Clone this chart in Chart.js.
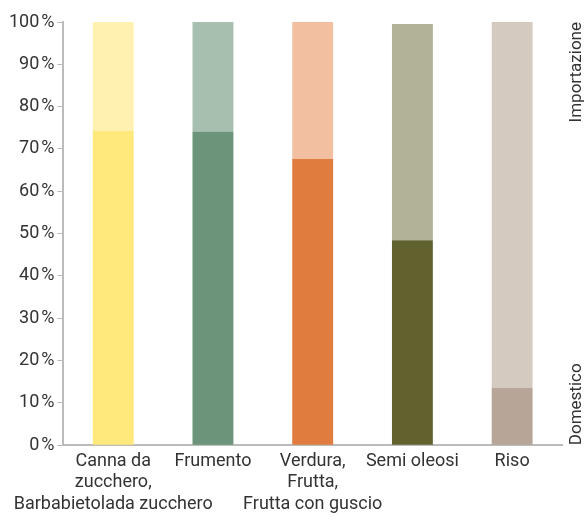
<!DOCTYPE html>
<html>
<head>
<meta charset="utf-8">
<script src="https://cdn.jsdelivr.net/npm/chart.js@4/dist/chart.umd.min.js"></script>
<style>
  html, body { margin: 0; padding: 0; background: #fff; }
  #wrap { width: 584px; height: 520px; }
</style>
</head>
<body>
<div id="wrap"><canvas id="c" width="584" height="520"></canvas></div>
<script>
// Categories (multi-line labels)
const categories = [
  ["Canna da", "zucchero,", "Barbabietolada zucchero"],
  ["Frumento"],
  ["Verdura,", "Frutta,", "Frutta con guscio"],
  ["Semi oleosi"],
  ["Riso"]
];
// Share of supply, percent
const domestico    = [74.3, 74.1, 67.6, 48.4, 13.6];
const importazione = [25.7, 25.9, 32.4, 51.1, 86.4];
const yTicks = [0, 10, 20, 30, 40, 50, 60, 70, 80, 90, 100];

const domesticColors = ["#FFE87C", "#6B947A", "#E07C3E", "#62622F", "#B7A597"];
const importColors   = ["#FFF2B0", "#A6BFAE", "#F2BFA0", "#B1B297", "#D5CAC0"];

const FONT = "Roboto, 'Liberation Sans', sans-serif";
const TEXT = "#333333";
const AXIS = "#BBBBBB";

// Rotated series names on the right edge
const sideLabels = {
  id: "sideLabels",
  afterDraw(chart) {
    const { ctx, chartArea } = chart;
    const x = chartArea.right + 15;
    const draw = (text, y, align) => {
      ctx.save();
      ctx.fillStyle = TEXT;
      ctx.font = "17px " + FONT;
      ctx.textBaseline = "middle";
      ctx.translate(x, y);
      ctx.rotate(-Math.PI / 2);
      ctx.textAlign = align;
      ctx.fillText(text, 0, 0);
      ctx.restore();
    };
    draw("Importazione", chartArea.top, "right");
    draw("Domestico", chartArea.bottom, "left");
  }
};

new Chart(document.getElementById("c"), {
  type: "bar",
  data: {
    labels: categories,
    datasets: [
      { label: "Domestico", data: domestico, backgroundColor: domesticColors },
      { label: "Importazione", data: importazione, backgroundColor: importColors }
    ]
  },
  options: {
    responsive: false,
    animation: false,
    layout: { padding: { top: 22, right: 22, left: 6, bottom: 0 } },
    datasets: { bar: { barPercentage: 0.41, categoryPercentage: 1 } },
    plugins: { legend: { display: false }, tooltip: { enabled: false } },
    scales: {
      x: {
        stacked: true,
        grid: { display: false, drawTicks: false },
        border: { display: true, color: AXIS, width: 2 },
        ticks: { color: TEXT, font: { family: FONT, size: 18, lineHeight: 1.2 }, maxRotation: 0, autoSkip: false, padding: 5 }
      },
      y: {
        stacked: true,
        min: 0, max: 100,
        afterBuildTicks(scale) { scale.ticks = yTicks.map(v => ({ value: v })); },
        grid: { drawOnChartArea: false, drawTicks: true, tickLength: 6, color: AXIS, lineWidth: 1 },
        border: { display: true, color: AXIS, width: 2 },
        ticks: { color: TEXT, font: { family: FONT, size: 18 }, padding: 3, callback: v => v + "\u200A%" }
      }
    }
  },
  plugins: [sideLabels]
});
</script>
</body>
</html>
